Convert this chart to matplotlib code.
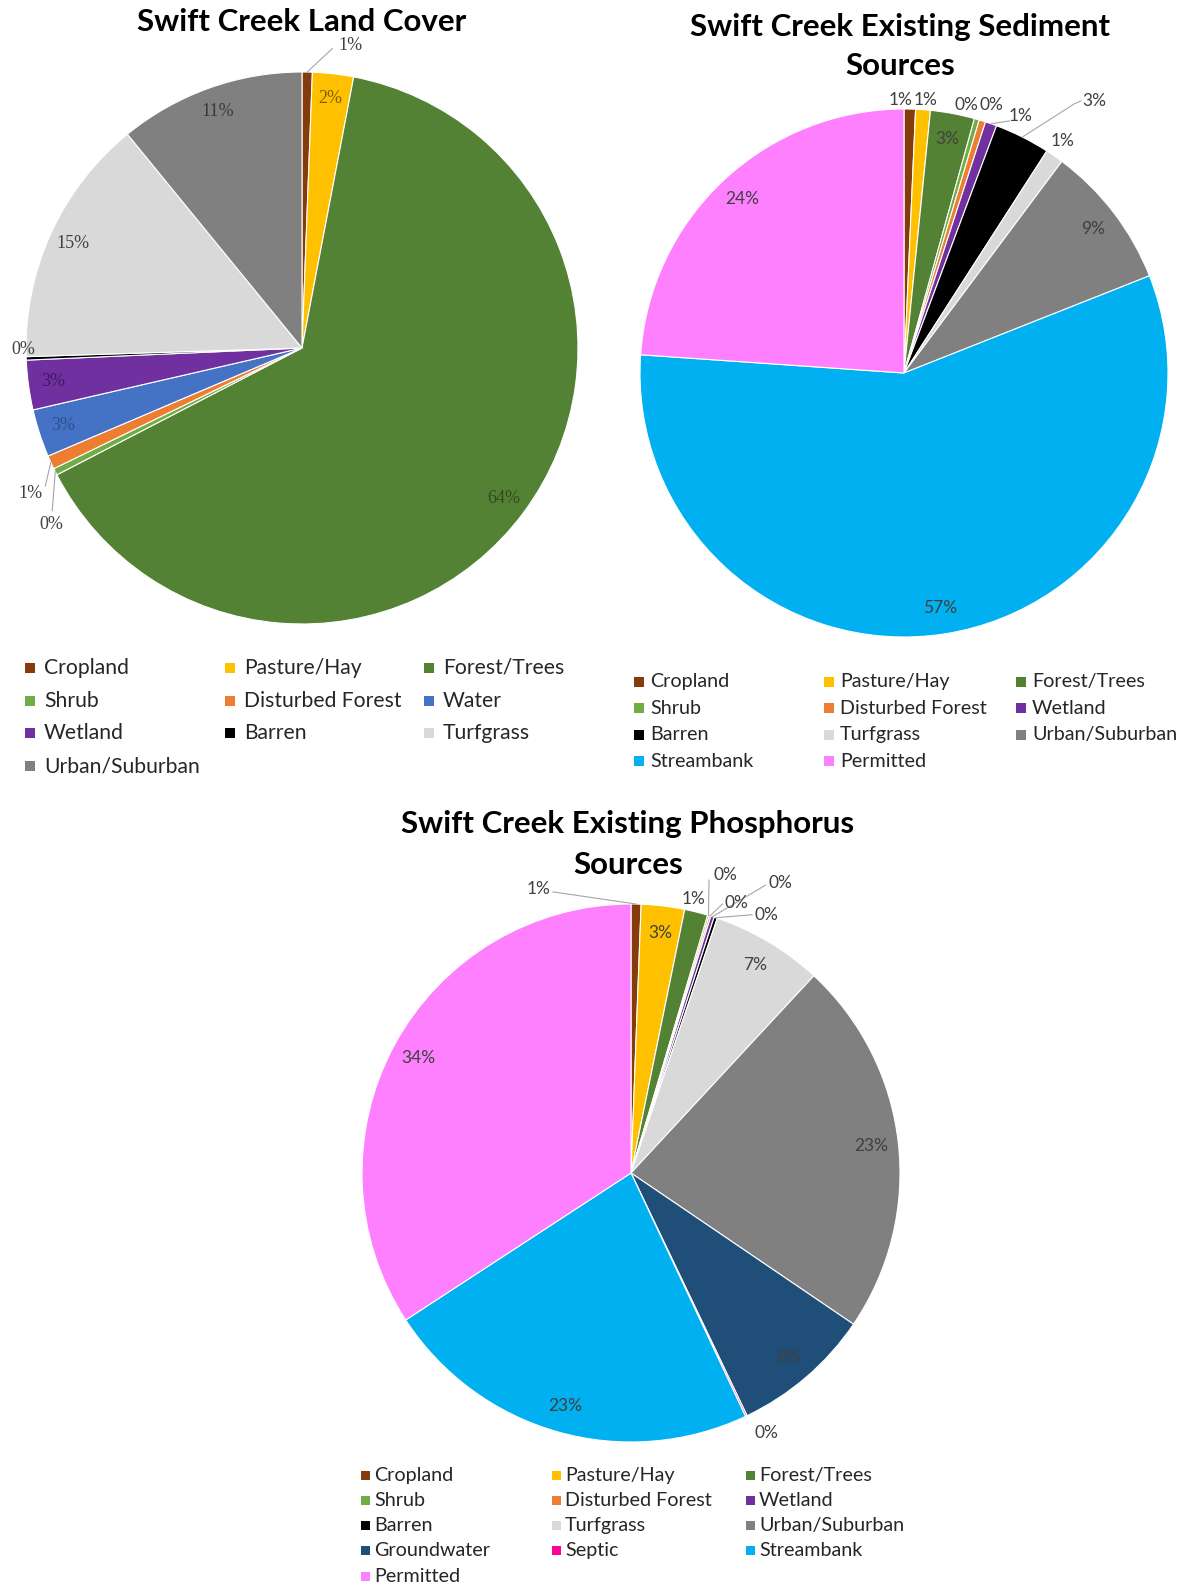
import matplotlib
matplotlib.use("Agg")
import matplotlib.pyplot as plt
from matplotlib.patches import Rectangle
import numpy as np

W, H = 1184, 1590
DPI = 100

plt.rcParams['font.family'] = ['Lato', 'DejaVu Sans']

COLORS = {
    "Cropland": "#843C0C",
    "Pasture/Hay": "#FFC000",
    "Forest/Trees": "#548235",
    "Shrub": "#70AD47",
    "Disturbed Forest": "#ED7D31",
    "Water": "#4472C4",
    "Wetland": "#7030A0",
    "Barren": "#000000",
    "Turfgrass": "#D9D9D9",
    "Urban/Suburban": "#808080",
    "Groundwater": "#1F4E79",
    "Septic": "#FF0099",
    "Streambank": "#00B0F0",
    "Permitted": "#FF80FF",
}

# --- data -------------------------------------------------------------
lc_names = ["Cropland", "Pasture/Hay", "Forest/Trees", "Shrub", "Disturbed Forest",
            "Water", "Wetland", "Barren", "Turfgrass", "Urban/Suburban"]
lc_values = [0.6, 2.4, 64.4, 0.4, 0.8, 2.8, 2.9, 0.2, 14.6, 10.9]

sed_names = ["Cropland", "Pasture/Hay", "Forest/Trees", "Shrub", "Disturbed Forest",
             "Wetland", "Barren", "Turfgrass", "Urban/Suburban", "Streambank", "Permitted"]
sed_values = [0.7, 0.9, 2.7, 0.3, 0.4, 0.7, 3.4, 1.1, 8.8, 57.1, 23.9]

p_names = ["Cropland", "Pasture/Hay", "Forest/Trees", "Shrub", "Disturbed Forest",
           "Wetland", "Barren", "Turfgrass", "Urban/Suburban", "Groundwater",
           "Septic", "Streambank", "Permitted"]
p_values = [0.6, 2.6, 1.4, 0.1, 0.1, 0.2, 0.2, 6.7, 22.6, 8.4, 0.1, 22.8, 34.2]

fig = plt.figure(figsize=(W / DPI, H / DPI), dpi=DPI)


def title(x, ys, lines):
    for y, s in zip(ys, lines):
        fig.text(x / W, 1 - y / H, s, ha="center", va="center",
                 fontsize=22.5, fontweight="bold")


def pie_chart(names, values, cx, cy, r, outside, leaders, colors, family, size, dist=0.9):
    L = 1.3
    ax = fig.add_axes([(cx - L * r) / W, (H - cy - L * r) / H, 2 * L * r / W, 2 * L * r / H])
    wedges, _ = ax.pie(values, colors=[COLORS[n] for n in names], startangle=90,
                       counterclock=False,
                       wedgeprops=dict(edgecolor="white", linewidth=0.8))
    ax.set_xlim(-L, L)
    ax.set_ylim(-L, L)
    ax.set_aspect("equal")
    ax.axis("off")
    total = sum(values)
    for i, w in enumerate(wedges):
        txt = f"{values[i] / total * 100:.0f}%"
        mid = np.deg2rad((w.theta1 + w.theta2) / 2)
        col = colors.get(i, "#404040")
        if i in outside:
            x, y = outside[i]
        else:
            x, y = dist * np.cos(mid), dist * np.sin(mid)
        ax.text(x, y, txt, ha="center", va="center", fontsize=size,
                family=family, color=col)
        if i in leaders:
            pts = [(np.cos(mid), np.sin(mid))] + leaders[i]
            xs, ys = zip(*pts)
            ax.plot(xs, ys, color="#A6A6A6", lw=0.8)
    return ax


def legend(names, xs, y0, dy, size, box, off):
    for i, n in enumerate(names):
        row, c = divmod(i, 3)
        x = xs[c]
        y = y0 + row * dy
        fig.patches.append(Rectangle((x / W, 1 - (y + box / 2) / H), box / W, box / H,
                                     transform=fig.transFigure,
                                     facecolor=COLORS[n], edgecolor="none"))
        fig.text((x + off) / W, 1 - y / H, n, fontsize=size, ha="left", va="center",
                 color="#262626")


# --- land cover --------------------------------------------------------
title(302, [22], ["Swift Creek Land Cover"])
pie_chart(lc_names, lc_values, 302, 348, 276,
          outside={0: (0.175, 1.095), 7: (-1.01, -0.006), 4: (-0.985, -0.528),
                   3: (-0.91, -0.64)},
          leaders={0: [(0.11, 1.085)], 4: [(-0.93, -0.50)], 3: [(-0.905, -0.59)]},
          colors={1: "#7F5F00", 2: "#2F4A1E", 5: "#2E4F8F", 6: "#3E1A5C",
                  8: "#404040", 9: "#3A3A3A"},
          family=["Liberation Serif"], size=13, dist=0.91)
legend(lc_names, [25, 225, 424], 668, 32.7, 15.2, 10, 19)

# --- sediment ----------------------------------------------------------
title(900, [27, 66], ["Swift Creek Existing Sediment", "Sources"])
pie_chart(sed_names, sed_values, 904, 373, 264,
          outside={0: (-0.012, 1.035), 1: (0.08, 1.035), 3: (0.235, 1.017),
                   4: (0.33, 1.014), 5: (0.44, 0.975), 6: (0.72, 1.03),
                   7: (0.60, 0.879)},
          leaders={5: [(0.40, 0.955)], 6: [(0.646, 1.02), (0.67, 1.03)]},
          colors={}, family=["Lato"], size=12.5)
legend(sed_names, [634, 824, 1016], 682, 26.4, 14.2, 10, 16)

# --- phosphorus --------------------------------------------------------
title(628, [824, 865], ["Swift Creek Existing Phosphorus", "Sources"])
pie_chart(p_names, p_values, 631, 1173, 269,
          outside={0: (-0.343, 1.057), 2: (0.234, 1.02), 3: (0.351, 1.109),
                   4: (0.393, 1.003), 5: (0.554, 1.077), 6: (0.504, 0.959),
                   10: (0.503, -0.968)},
          leaders={0: [(-0.29, 1.045)], 3: [(0.29, 1.089)], 4: [(0.34, 1.0)],
                   5: [(0.50, 1.07)], 6: [(0.45, 0.96)]},
          colors={}, family=["Lato"], size=12.5)
legend(p_names, [361, 552, 746], 1475, 25.3, 14.2, 9, 13)

fig.savefig("out.png", dpi=DPI)
